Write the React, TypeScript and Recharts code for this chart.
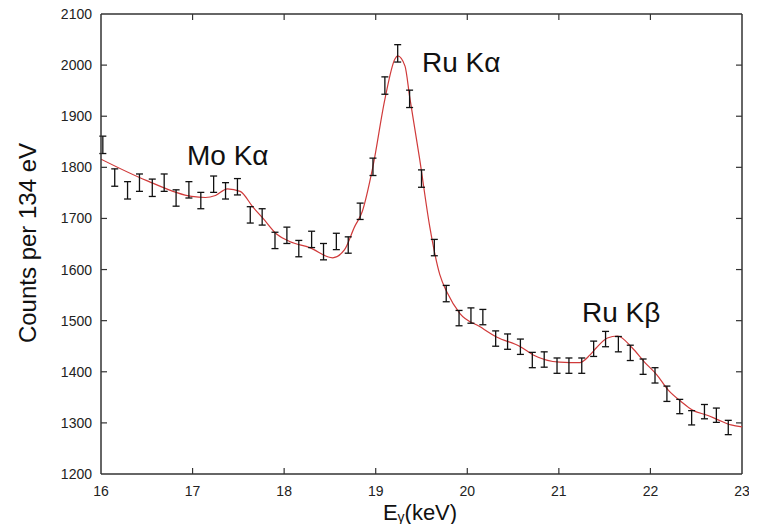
import React from "react";
import {
  ComposedChart,
  Line,
  Scatter,
  ErrorBar,
  XAxis,
  YAxis,
  ReferenceLine,
} from "recharts";

// Measured spectrum: energy (keV), counts per 134 eV, and error
const energies = [
  16.02, 16.15, 16.29, 16.42, 16.56, 16.69, 16.82, 16.96, 17.09, 17.23,
  17.36, 17.49, 17.63, 17.76, 17.9, 18.03, 18.16, 18.3, 18.43, 18.57,
  18.7, 18.83, 18.97, 19.1, 19.24, 19.37, 19.5, 19.64, 19.77, 19.91,
  20.04, 20.17, 20.31, 20.44, 20.58, 20.71, 20.84, 20.98, 21.11, 21.25,
  21.38, 21.51, 21.65, 21.78, 21.92, 22.05, 22.18, 22.32, 22.45, 22.59,
  22.72, 22.85,
];
const counts = [
  1844, 1780, 1755, 1770, 1760, 1770, 1740, 1756, 1735, 1767,
  1754, 1762, 1707, 1703, 1657, 1667, 1641, 1659, 1635, 1655,
  1648, 1714, 1801, 1960, 2023, 1934, 1778, 1643, 1553, 1505,
  1510, 1507, 1465, 1459, 1449, 1423, 1424, 1412, 1412, 1412,
  1445, 1464, 1454, 1437, 1410, 1393, 1357, 1332, 1310, 1322,
  1315, 1291,
];
const errors = [
  17, 17, 17, 17, 17, 17, 16, 16, 16, 16,
  16, 16, 16, 16, 16, 16, 16, 16, 16, 16,
  16, 16, 17, 17, 17, 17, 17, 16, 16, 15,
  15, 15, 15, 15, 15, 15, 15, 15, 15, 15,
  15, 15, 15, 15, 15, 15, 15, 14, 14, 14,
  14, 14,
];

// Fit curve
const fitE = [
  16.0, 16.5, 16.99, 17.14, 17.25, 17.38, 17.52, 17.66, 17.77, 17.92,
  18.06, 18.28, 18.53, 18.66, 18.77, 18.85, 18.97, 19.1, 19.21, 19.24,
  19.32, 19.37, 19.48, 19.59, 19.7, 19.78, 19.92, 20.14, 20.32, 20.58,
  20.72, 21.01, 21.23, 21.34, 21.41, 21.53, 21.64, 21.8, 21.94, 22.07,
  22.19, 22.34, 22.46, 22.62, 22.74, 22.88, 23.0,
];
const fitC = [
  1816, 1774, 1743, 1741, 1745, 1758, 1753, 1722, 1700, 1669,
  1655, 1643, 1623, 1639, 1684, 1712, 1802, 1933, 2012, 2018,
  1998, 1939, 1816, 1684, 1590, 1555, 1514, 1488, 1468, 1449,
  1433, 1419, 1418, 1433, 1447, 1466, 1470, 1447, 1418, 1394,
  1365, 1341, 1325, 1315, 1306, 1296, 1292,
];

const xTicks = [16, 17, 18, 19, 20, 21, 22, 23];
const yTicks = [1200, 1300, 1400, 1500, 1600, 1700, 1800, 1900, 2000, 2100];
const X_MAX = 23;
const Y_MAX = 2100;

const points = energies.map((e, i) => ({ e, c: counts[i], err: errors[i] }));
const fit = fitE.map((e, i) => ({ e, c: fitC[i] }));

const FONT = "'Liberation Sans', Arial, Helvetica, sans-serif";
const AXIS = "#333";
const W = 757;
const H = 524;
const MARGIN = { top: 14, right: 15, bottom: 20, left: 41 };
const PLOT_TOP = MARGIN.top;
const PLOT_RIGHT = W - MARGIN.right;
const TL = 6; // tick length (inward)
const XM = 12; // bottom label margin
const YM = 9; // left label margin

const BottomTick = (p: any) => {
  const { x, y, payload, index, visibleTicksCount } = p;
  const ay = y - XM;
  const edge = index === 0 || index === visibleTicksCount - 1;
  return (
    <g>
      {!edge && (
        <>
          <line x1={x} y1={ay} x2={x} y2={ay - TL} stroke={AXIS} strokeWidth={1.2} />
          <line x1={x} y1={PLOT_TOP} x2={x} y2={PLOT_TOP + TL} stroke={AXIS} strokeWidth={1.2} />
        </>
      )}
      <text x={x} y={y} dy="0.71em" textAnchor="middle" fontSize={14} fill="#222" fontFamily={FONT}>
        {payload.value}
      </text>
    </g>
  );
};

const LeftTick = (p: any) => {
  const { x, y, payload, index, visibleTicksCount } = p;
  const ax = x + YM;
  const edge = index === 0 || index === visibleTicksCount - 1;
  return (
    <g>
      {!edge && (
        <>
          <line x1={ax} y1={y} x2={ax + TL} y2={y} stroke={AXIS} strokeWidth={1.2} />
          <line x1={PLOT_RIGHT} y1={y} x2={PLOT_RIGHT - TL} y2={y} stroke={AXIS} strokeWidth={1.2} />
        </>
      )}
      <text x={x} y={y} dy="0.355em" textAnchor="end" fontSize={14} fill="#222" fontFamily={FONT}>
        {payload.value}
      </text>
    </g>
  );
};

export default function App() {
  return (
    <div style={{ margin: "-8px 0 0 -8px", width: W, height: H }}>
      <ComposedChart width={W} height={H} margin={MARGIN} style={{ background: "#fff" }}>
        <XAxis
          dataKey="e"
          type="number"
          domain={[16, 23]}
          ticks={xTicks}
          allowDataOverflow
          height={30}
          tickSize={0}
          tickMargin={XM}
          tickLine={false}
          stroke={AXIS}
          strokeWidth={1.5}
          tick={<BottomTick />}
          interval={0}
        />
        <YAxis
          type="number"
          domain={[1200, 2100]}
          ticks={yTicks}
          allowDataOverflow
          width={60}
          tickSize={0}
          tickMargin={YM}
          tickLine={false}
          stroke={AXIS}
          strokeWidth={1.5}
          tick={<LeftTick />}
          interval={0}
        />
        <ReferenceLine y={Y_MAX} stroke={AXIS} strokeWidth={1.5} ifOverflow="visible" />
        <ReferenceLine x={X_MAX} stroke={AXIS} strokeWidth={1.5} ifOverflow="visible" />
        <Line
          data={fit}
          dataKey="c"
          type="monotone"
          stroke="#d03a3a"
          strokeWidth={1.2}
          dot={false}
          activeDot={false}
          isAnimationActive={false}
        />
        <Scatter data={points} dataKey="c" shape={() => <g />} isAnimationActive={false}>
          <ErrorBar
            dataKey="err"
            direction="y"
            width={3.5}
            stroke="#111"
            strokeWidth={1.3}
            isAnimationActive={false}
          />
        </Scatter>
        <text
          x={36}
          y={243}
          transform="rotate(-90 36 243)"
          textAnchor="middle"
          fontFamily={FONT}
          fontSize={24}
          fill="#111"
        >
          Counts per 134 eV
        </text>
        <text x={420} y={520} textAnchor="middle" fontFamily={FONT} fontSize={22} fill="#111">
          E
          <tspan fontSize={14} dy={2}>γ</tspan>
          <tspan dy={-2}>(keV)</tspan>
        </text>
        <text x={187} y={165} fontFamily={FONT} fontSize={28} fill="#111">
          Mo Kα
        </text>
        <text x={422} y={72} fontFamily={FONT} fontSize={28} fill="#111">
          Ru Kα
        </text>
        <text x={582} y={322} fontFamily={FONT} fontSize={28} fill="#111">
          Ru Kβ
        </text>
      </ComposedChart>
    </div>
  );
}
